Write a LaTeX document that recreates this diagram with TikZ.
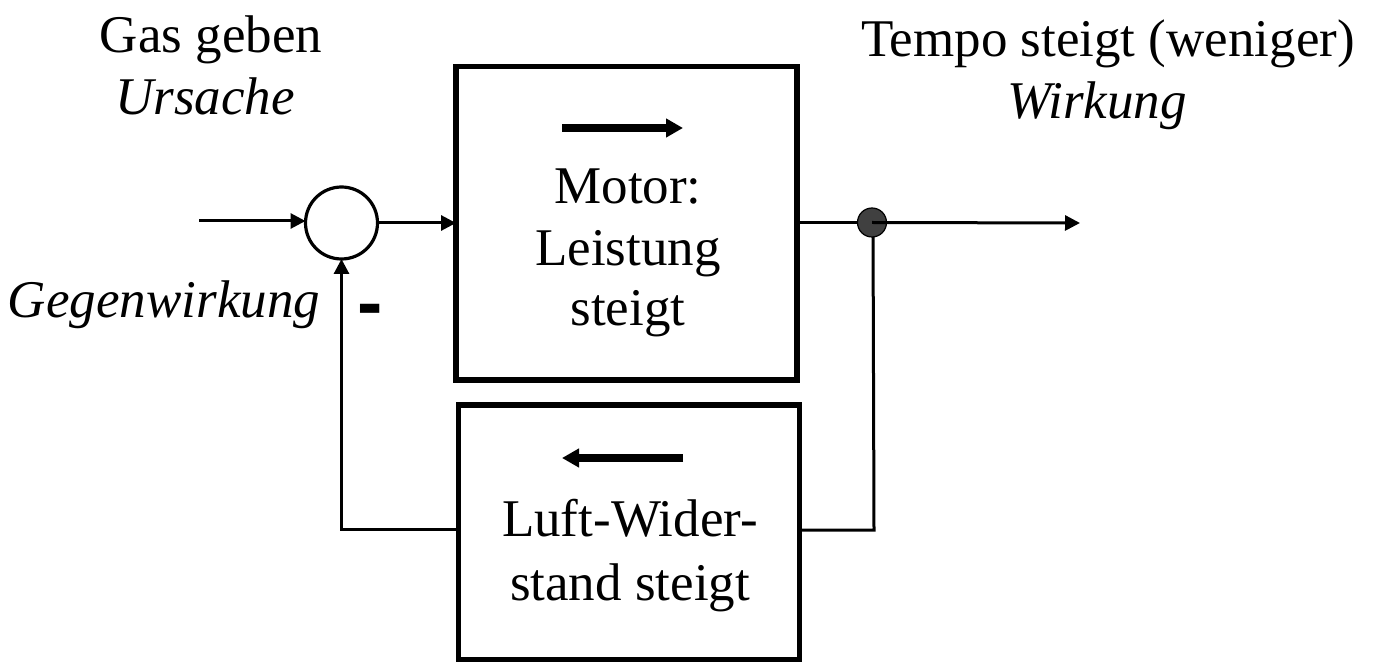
\documentclass[tikz,border=0pt]{standalone}
\usepackage{fontspec}
\setmainfont{Liberation Serif}
\setsansfont{Liberation Sans}
\usetikzlibrary{arrows.meta}
\begin{document}
\begin{tikzpicture}[x=0.5pt,y=-0.5pt,
  every node/.style={inner sep=0pt, outer sep=0pt},
  txt/.style={anchor=base, font=\fontsize{26.5}{31}\selectfont},
  itxt/.style={txt, font=\fontsize{26.5}{31}\selectfont\itshape},
  line/.style={line width=1.5pt},
  arr/.style={line, -{Triangle[length=7.5pt,width=7.5pt]}},
  bigarr/.style={line width=4pt, -{Triangle[length=8.5pt,width=9pt]}},
  boxst/.style={draw, line width=2.8pt, minimum width=170.5pt},
  sumst/.style={draw, circle, line width=1.6pt, minimum size=36pt},
  dotst/.style={draw, circle, line width=0.6pt, fill=black!75, minimum size=14.5pt}]
\useasboundingbox (0,0) rectangle (1376,662);
% boxes
\node[boxst, minimum height=156.75pt] (motor) at (626.5,223.25) {};
\node[boxst, minimum height=127.5pt] (luft) at (629,532.5) {};
\node[sumst] (sum) at (341.5,223) {};
% texts
\node[txt] (gas) at (211,53) {Gas geben};
\node[itxt] (urs) at (205,115) {Ursache};
\node[txt] (tempo) at (1108,57) {Tempo steigt (weniger)};
\node[itxt] (wirk) at (1097,119) {Wirkung};
\node[itxt] (gegen) at (164,318) {Gegenwirkung};
\node[anchor=center, font=\fontsize{38}{40}\selectfont\sffamily\bfseries] (minus) at (370,316) {-};
\node[txt] (m1) at (628,204) {Motor:};
\node[txt] (m2) at (628,266) {Leistung};
\node[txt] (m3) at (628,326) {steigt};
\node[txt] (l1) at (630,536) {Luft-Wider-};
\node[txt] (l2) at (630,600) {stand steigt};
% inner arrows
\coordinate (ta1) at (562,128);
\coordinate (ta2) at (683,128);
\draw[bigarr] (ta1) -- (ta2);
\coordinate (ba1) at (683,458);
\coordinate (ba2) at (562,458);
\draw[bigarr] (ba1) -- (ba2);
% connectors
\coordinate (in) at (199,221);
\draw[arr] (in) -- (sum.west |- in);
\draw[arr] (sum.east) -- (motor.west |- sum.east);
\coordinate (out) at (1080,223);
\coordinate (split) at (873,223);
\draw[line] (motor.east |- out) -- (split);
\coordinate (fb1) at (874,530);
\draw[line] (split) -- (fb1) -- (luft.east |- fb1);
\coordinate (fb2) at (341.5,529);
\draw[arr] (luft.west |- fb2) -- (fb2) -- (sum.south);
\node[dotst] (dot) at (872,222.5) {};
\draw[arr] (dot.center) -- (out);
\end{tikzpicture}
\end{document}
